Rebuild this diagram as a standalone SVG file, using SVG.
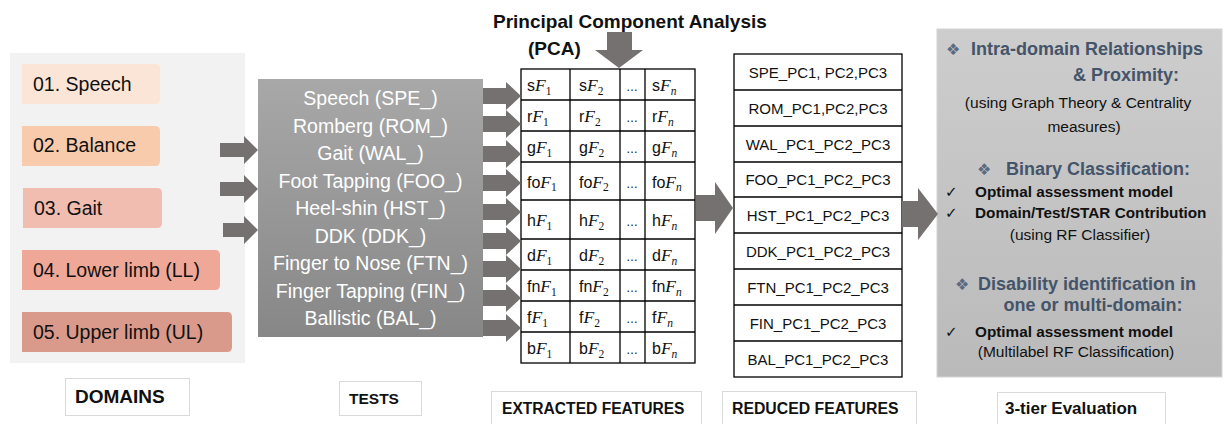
<svg xmlns="http://www.w3.org/2000/svg" width="1226" height="424" viewBox="0 0 1226 424">
  <defs>
    <linearGradient id="testsFill" x1="0" y1="0" x2="0" y2="1">
      <stop offset="0" stop-color="#a8a8a8"/>
      <stop offset="1" stop-color="#878787"/>
    </linearGradient>
    <linearGradient id="evalFill" x1="0" y1="0" x2="0" y2="1">
      <stop offset="0" stop-color="#cdcdcd"/>
      <stop offset="1" stop-color="#bababa"/>
    </linearGradient>
  </defs>
  <style>
    text { font-family: "Liberation Sans", Arial, sans-serif; }
    .arrow { fill: #767171; }
    .dom { font-size: 19.5px; fill: #111; }
    .test { font-size: 19.5px; fill: #ffffff; text-anchor: middle; }
    .grid { fill: #ffffff; stroke: #000; stroke-width: 1.3; }
    .cell { font-size: 16px; fill: #111; }
    .mF { font-family: "Liberation Serif", "DejaVu Serif", serif; font-style: italic; font-size: 17.5px; }
    .sub { font-family: "Liberation Serif", "DejaVu Serif", serif; font-size: 11.5px; }
    .subi { font-family: "Liberation Serif", "DejaVu Serif", serif; font-size: 11.5px; font-style: italic; }
    .dots { font-size: 12px; fill: #111; text-anchor: middle; }
    .red { font-size: 15px; fill: #111; text-anchor: middle; }
    .head { font-size: 18px; font-weight: bold; fill: #44546a; }
    .dia { font-family: "DejaVu Sans", sans-serif; font-size: 16px; fill: #5a6a80; }
    .chk { font-family: "DejaVu Sans", sans-serif; font-size: 15px; fill: #111; }
    .bl { font-size: 15.3px; font-weight: bold; fill: #111; }
    .note { font-size: 15.5px; fill: #111; text-anchor: middle; }
    .lblbox { fill: #ffffff; stroke: #d9d9d9; stroke-width: 1; }
    .lbl { font-weight: bold; fill: #111; }
    .title { font-size: 19px; font-weight: bold; fill: #111; }
  </style>

  <!-- Domains panel -->
  <g id="domains">
    <rect x="10" y="53" width="235" height="310" fill="#f2f2f2"/>
    <path d="M22 64 H155 Q160 64 160 69 V99 Q160 104 155 104 H22 Z" fill="#fbe5d6"/>
    <text class="dom" x="33" y="91">01. Speech</text>
    <path d="M22 126 H155 Q160 126 160 131 V161 Q160 166 155 166 H22 Z" fill="#f8cbad"/>
    <text class="dom" x="33" y="152">02. Balance</text>
    <path d="M23 188 H157 Q162 188 162 193 V223 Q162 228 157 228 H23 Z" fill="#f2bdb1"/>
    <text class="dom" x="34" y="215">03. Gait</text>
    <path d="M22 250 H215 Q220 250 220 255 V285 Q220 290 215 290 H22 Z" fill="#efa898"/>
    <text class="dom" x="33" y="277">04. Lower limb (LL)</text>
    <path d="M22 312 H227 Q232 312 232 317 V347 Q232 352 227 352 H22 Z" fill="#d99a8b"/>
    <text class="dom" x="33" y="339">05. Upper limb (UL)</text>
  </g>

  <!-- Tests block -->
  <g id="tests">
    <rect x="258" y="79" width="225" height="258" fill="url(#testsFill)"/>
    <text class="test" x="370.5" y="105">Speech (SPE_)</text>
    <text class="test" x="370.5" y="132.5">Romberg (ROM_)</text>
    <text class="test" x="370.5" y="160">Gait (WAL_)</text>
    <text class="test" x="370.5" y="187.5">Foot Tapping (FOO_)</text>
    <text class="test" x="370.5" y="215">Heel-shin (HST_)</text>
    <text class="test" x="370.5" y="242.5">DDK (DDK_)</text>
    <text class="test" x="370.5" y="270">Finger to Nose (FTN_)</text>
    <text class="test" x="370.5" y="297.5">Finger Tapping (FIN_)</text>
    <text class="test" x="370.5" y="325">Ballistic (BAL_)</text>
  </g>

  <!-- PCA title -->
  <g id="pca">
    <text class="title" x="493" y="28">Principal Component Analysis</text>
    <text class="title" x="528" y="55">(PCA)</text>
  </g>

  <!-- Extracted feature matrix -->
  <g id="extracted-features">
    <rect class="grid" x="521" y="69" width="174" height="294"/>
    <g stroke="#000" stroke-width="1.3">
      <line x1="570" y1="69" x2="570" y2="363"/>
      <line x1="620" y1="69" x2="620" y2="363"/>
      <line x1="645" y1="69" x2="645" y2="363"/>
      <line x1="521" y1="100" x2="695" y2="100"/>
      <line x1="521" y1="131" x2="695" y2="131"/>
      <line x1="521" y1="162" x2="695" y2="162"/>
      <line x1="521" y1="200" x2="695" y2="200"/>
      <line x1="521" y1="239" x2="695" y2="239"/>
      <line x1="521" y1="270" x2="695" y2="270"/>
      <line x1="521" y1="301" x2="695" y2="301"/>
      <line x1="521" y1="332" x2="695" y2="332"/>
    </g>
    <!-- row s -->
    <text class="cell" x="527" y="91">s<tspan class="mF">F</tspan><tspan class="sub" dy="3.5">1</tspan></text>
    <text class="cell" x="579" y="91">s<tspan class="mF">F</tspan><tspan class="sub" dy="3.5">2</tspan></text>
    <text class="dots" x="632" y="91">…</text>
    <text class="cell" x="652" y="91">s<tspan class="mF">F</tspan><tspan class="subi" dy="3.5">n</tspan></text>
    <!-- row r -->
    <text class="cell" x="527" y="122">r<tspan class="mF">F</tspan><tspan class="sub" dy="3.5">1</tspan></text>
    <text class="cell" x="579" y="122">r<tspan class="mF">F</tspan><tspan class="sub" dy="3.5">2</tspan></text>
    <text class="dots" x="632" y="122">…</text>
    <text class="cell" x="652" y="122">r<tspan class="mF">F</tspan><tspan class="subi" dy="3.5">n</tspan></text>
    <!-- row g -->
    <text class="cell" x="527" y="153">g<tspan class="mF">F</tspan><tspan class="sub" dy="3.5">1</tspan></text>
    <text class="cell" x="579" y="153">g<tspan class="mF">F</tspan><tspan class="sub" dy="3.5">2</tspan></text>
    <text class="dots" x="632" y="153">…</text>
    <text class="cell" x="652" y="153">g<tspan class="mF">F</tspan><tspan class="subi" dy="3.5">n</tspan></text>
    <!-- row fo -->
    <text class="cell" x="527" y="187.5">fo<tspan class="mF">F</tspan><tspan class="sub" dy="3.5">1</tspan></text>
    <text class="cell" x="579" y="187.5">fo<tspan class="mF">F</tspan><tspan class="sub" dy="3.5">2</tspan></text>
    <text class="dots" x="632" y="187.5">…</text>
    <text class="cell" x="652" y="187.5">fo<tspan class="mF">F</tspan><tspan class="subi" dy="3.5">n</tspan></text>
    <!-- row h -->
    <text class="cell" x="527" y="226">h<tspan class="mF">F</tspan><tspan class="sub" dy="3.5">1</tspan></text>
    <text class="cell" x="579" y="226">h<tspan class="mF">F</tspan><tspan class="sub" dy="3.5">2</tspan></text>
    <text class="dots" x="632" y="226">…</text>
    <text class="cell" x="652" y="226">h<tspan class="mF">F</tspan><tspan class="subi" dy="3.5">n</tspan></text>
    <!-- row d -->
    <text class="cell" x="527" y="261">d<tspan class="mF">F</tspan><tspan class="sub" dy="3.5">1</tspan></text>
    <text class="cell" x="579" y="261">d<tspan class="mF">F</tspan><tspan class="sub" dy="3.5">2</tspan></text>
    <text class="dots" x="632" y="261">…</text>
    <text class="cell" x="652" y="261">d<tspan class="mF">F</tspan><tspan class="subi" dy="3.5">n</tspan></text>
    <!-- row fn -->
    <text class="cell" x="527" y="292">fn<tspan class="mF">F</tspan><tspan class="sub" dy="3.5">1</tspan></text>
    <text class="cell" x="579" y="292">fn<tspan class="mF">F</tspan><tspan class="sub" dy="3.5">2</tspan></text>
    <text class="dots" x="632" y="292">…</text>
    <text class="cell" x="652" y="292">fn<tspan class="mF">F</tspan><tspan class="subi" dy="3.5">n</tspan></text>
    <!-- row f -->
    <text class="cell" x="527" y="323">f<tspan class="mF">F</tspan><tspan class="sub" dy="3.5">1</tspan></text>
    <text class="cell" x="579" y="323">f<tspan class="mF">F</tspan><tspan class="sub" dy="3.5">2</tspan></text>
    <text class="dots" x="632" y="323">…</text>
    <text class="cell" x="652" y="323">f<tspan class="mF">F</tspan><tspan class="subi" dy="3.5">n</tspan></text>
    <!-- row b -->
    <text class="cell" x="527" y="354">b<tspan class="mF">F</tspan><tspan class="sub" dy="3.5">1</tspan></text>
    <text class="cell" x="579" y="354">b<tspan class="mF">F</tspan><tspan class="sub" dy="3.5">2</tspan></text>
    <text class="dots" x="632" y="354">…</text>
    <text class="cell" x="652" y="354">b<tspan class="mF">F</tspan><tspan class="subi" dy="3.5">n</tspan></text>
  </g>

  <!-- Reduced feature list -->
  <g id="reduced-features">
    <rect class="grid" x="734" y="54" width="168" height="323"/>
    <g stroke="#000" stroke-width="1.3">
      <line x1="734" y1="90" x2="902" y2="90"/>
      <line x1="734" y1="126" x2="902" y2="126"/>
      <line x1="734" y1="162" x2="902" y2="162"/>
      <line x1="734" y1="197" x2="902" y2="197"/>
      <line x1="734" y1="233" x2="902" y2="233"/>
      <line x1="734" y1="269" x2="902" y2="269"/>
      <line x1="734" y1="305" x2="902" y2="305"/>
      <line x1="734" y1="341" x2="902" y2="341"/>
    </g>
    <text class="red" x="818" y="77.5">SPE_PC1, PC2,PC3</text>
    <text class="red" x="818" y="113.5">ROM_PC1,PC2,PC3</text>
    <text class="red" x="818" y="149.5">WAL_PC1_PC2_PC3</text>
    <text class="red" x="818" y="185">FOO_PC1_PC2_PC3</text>
    <text class="red" x="818" y="220.5">HST_PC1_PC2_PC3</text>
    <text class="red" x="818" y="256.5">DDK_PC1_PC2_PC3</text>
    <text class="red" x="818" y="292.5">FTN_PC1_PC2_PC3</text>
    <text class="red" x="818" y="328.5">FIN_PC1_PC2_PC3</text>
    <text class="red" x="818" y="364.5">BAL_PC1_PC2_PC3</text>
  </g>

  <!-- Three-tier evaluation panel -->
  <g id="evaluation">
    <rect x="937" y="29" width="285" height="348" fill="url(#evalFill)" stroke="#d4d4d4" stroke-width="1"/>
    <text class="dia" x="946" y="55">❖</text>
    <text class="head" x="971" y="55">Intra-domain Relationships</text>
    <text class="head" x="1126" y="81" text-anchor="middle">&amp; Proximity:</text>
    <text class="note" x="1078" y="108">(using Graph Theory &amp; Centrality</text>
    <text class="note" x="1084" y="132">measures)</text>

    <text class="dia" x="977" y="175">❖</text>
    <text class="head" x="1006" y="175">Binary Classification:</text>
    <text class="chk" x="945" y="197">✓</text>
    <text class="bl" x="975" y="197">Optimal assessment model</text>
    <text class="chk" x="945" y="218">✓</text>
    <text class="bl" x="975" y="218">Domain/Test/STAR Contribution</text>
    <text class="note" x="1080" y="240">(using RF Classifier)</text>

    <text class="dia" x="955" y="290">❖</text>
    <text class="head" x="978" y="290">Disability identification in</text>
    <text class="head" x="1093" y="311" text-anchor="middle">one or multi-domain:</text>
    <text class="chk" x="945" y="337">✓</text>
    <text class="bl" x="975" y="337">Optimal assessment model</text>
    <text class="note" x="1076" y="357">(Multilabel RF Classification)</text>
  </g>

  <!-- Column captions -->
  <g id="caption-domains">
    <rect class="lblbox" x="65.5" y="378.5" width="124" height="37"/>
    <text class="lbl" x="75" y="403" font-size="19">DOMAINS</text>
  </g>
  <g id="caption-tests">
    <rect class="lblbox" x="339.5" y="381.5" width="82" height="34"/>
    <text class="lbl" x="349" y="404" font-size="15.5">TESTS</text>
  </g>
  <g id="caption-extracted">
    <rect class="lblbox" x="491.5" y="391.5" width="210" height="40"/>
    <text class="lbl" x="502" y="414" font-size="15.6">EXTRACTED FEATURES</text>
  </g>
  <g id="caption-reduced">
    <rect class="lblbox" x="722.5" y="391.5" width="194" height="40"/>
    <text class="lbl" x="732" y="414" font-size="15.8">REDUCED FEATURES</text>
  </g>
  <g id="caption-evaluation">
    <rect class="lblbox" x="997.5" y="392.5" width="168" height="40"/>
    <text class="lbl" x="1005" y="414" font-size="17">3-tier Evaluation</text>
  </g>

  <!-- Block arrows -->
  <g id="connectors">
    <!-- domains to tests -->
    <polygon class="arrow" points="220,143 244,143 244,136 258,150 244,164 244,157 220,157"/>
    <polygon class="arrow" points="220,182 244,182 244,175 258,189 244,203 244,196 220,196"/>
    <polygon class="arrow" points="223,223 244,223 244,216 258,230 244,244 244,237 223,237"/>
    <!-- tests to feature rows -->
    <polygon class="arrow" points="483,88 506,88 506,82 521,96 506,110 506,104 483,104"/>
    <polygon class="arrow" points="483,116 506,116 506,110 521,124 506,138 506,132 483,132"/>
    <polygon class="arrow" points="483,146 506,146 506,140 521,154 506,168 506,162 483,162"/>
    <polygon class="arrow" points="483,175 506,175 506,169 521,183 506,197 506,191 483,191"/>
    <polygon class="arrow" points="483,204 506,204 506,198 521,212 506,226 506,220 483,220"/>
    <polygon class="arrow" points="483,233 506,233 506,227 521,241 506,255 506,249 483,249"/>
    <polygon class="arrow" points="483,261 506,261 506,255 521,269 506,283 506,277 483,277"/>
    <polygon class="arrow" points="483,290 506,290 506,284 521,298 506,312 506,306 483,306"/>
    <polygon class="arrow" points="483,320 506,320 506,314 521,328 506,342 506,336 483,336"/>
    <!-- PCA into matrix -->
    <polygon class="arrow" points="607,32 632,32 632,50 643,50 619,68 595,50 607,50"/>
    <!-- matrix to reduced list -->
    <polygon class="arrow" points="696,195 715,195 715,182 733,208 715,234 715,221 696,221"/>
    <!-- reduced list to evaluation -->
    <polygon class="arrow" points="902,201 918,201 918,188 938,214 918,240 918,227 902,227"/>
  </g>
</svg>
